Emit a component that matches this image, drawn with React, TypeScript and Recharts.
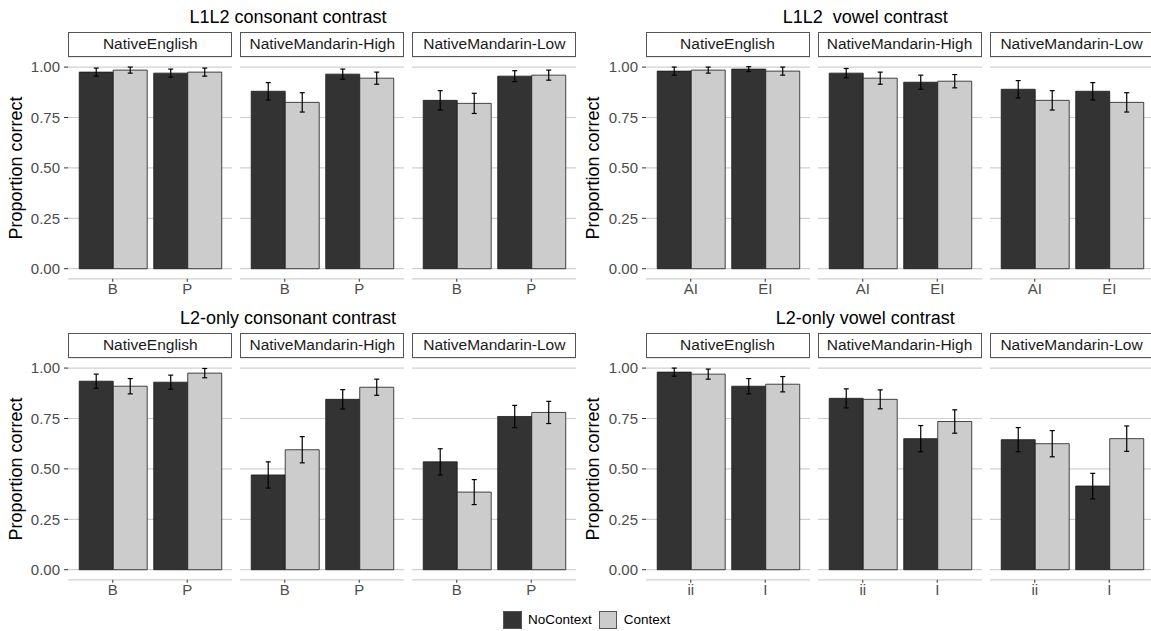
import React from "react";
import { BarChart, Bar, XAxis, YAxis, CartesianGrid, ErrorBar } from "recharts";

const groups = ["NativeEnglish", "NativeMandarin-High", "NativeMandarin-Low"];

const consonantCats = ["B", "P"];
const l1l2VowelCats = ["AI", "EI"];
const l2VowelCats = ["ii", "I"];

// each list runs group by group: [group1 cat1, group1 cat2, group2 cat1, ...]
const l1l2ConsNo = [0.975, 0.97, 0.88, 0.965, 0.835, 0.955];
const l1l2ConsNoErr = [0.02, 0.02, 0.043, 0.025, 0.048, 0.027];
const l1l2ConsCtx = [0.985, 0.975, 0.825, 0.945, 0.82, 0.96];
const l1l2ConsCtxErr = [0.015, 0.02, 0.048, 0.03, 0.05, 0.025];

const l1l2VowNo = [0.98, 0.99, 0.97, 0.925, 0.89, 0.88];
const l1l2VowNoErr = [0.02, 0.012, 0.023, 0.035, 0.043, 0.043];
const l1l2VowCtx = [0.985, 0.98, 0.945, 0.93, 0.835, 0.825];
const l1l2VowCtxErr = [0.015, 0.02, 0.03, 0.033, 0.048, 0.048];

const l2ConsNo = [0.935, 0.93, 0.47, 0.845, 0.535, 0.76];
const l2ConsNoErr = [0.035, 0.035, 0.065, 0.048, 0.065, 0.055];
const l2ConsCtx = [0.91, 0.975, 0.595, 0.905, 0.385, 0.78];
const l2ConsCtxErr = [0.038, 0.023, 0.065, 0.04, 0.062, 0.055];

const l2VowNo = [0.98, 0.91, 0.85, 0.65, 0.645, 0.415];
const l2VowNoErr = [0.02, 0.038, 0.047, 0.065, 0.06, 0.063];
const l2VowCtx = [0.97, 0.92, 0.845, 0.735, 0.625, 0.65];
const l2VowCtxErr = [0.025, 0.038, 0.047, 0.058, 0.065, 0.063];

const yTicks = [0, 0.25, 0.5, 0.75, 1];

const panels = [
  { title: "L1L2 consonant contrast", cats: consonantCats, no: l1l2ConsNo, noErr: l1l2ConsNoErr, ctx: l1l2ConsCtx, ctxErr: l1l2ConsCtxErr },
  { title: "L1L2  vowel contrast", cats: l1l2VowelCats, no: l1l2VowNo, noErr: l1l2VowNoErr, ctx: l1l2VowCtx, ctxErr: l1l2VowCtxErr },
  { title: "L2-only consonant contrast", cats: consonantCats, no: l2ConsNo, noErr: l2ConsNoErr, ctx: l2ConsCtx, ctxErr: l2ConsCtxErr },
  { title: "L2-only vowel contrast", cats: l2VowelCats, no: l2VowNo, noErr: l2VowNoErr, ctx: l2VowCtx, ctxErr: l2VowCtxErr },
];

const FONT = "'Liberation Sans', Arial, Helvetica, sans-serif";
const DARK = "#333333";
const LIGHT = "#cccccc";

// layout
const PANEL_LEFT = [68.3, 645.5];
const PANEL_TOP = [56.6, 357.6];
const FACET_W = 164;
const FACET_STEP = 172;
const PLOT_H = 221.8;
const AXIS_H = 32;
const Y_W = 60;
const STRIP_H = 24.4;

function facetData(p: any, g: number) {
  return p.cats.map((c: string, i: number) => {
    const k = g * 2 + i;
    return { cat: c, no: p.no[k], noErr: p.noErr[k], ctx: p.ctx[k], ctxErr: p.ctxErr[k] };
  });
}

function Facet({ p, g, left, top }: any) {
  const first = g === 0;
  const w = FACET_W + (first ? Y_W : 0);
  return (
    <div style={{ position: "absolute", left: left - (first ? Y_W : 0), top }}>
      <BarChart
        width={w}
        height={PLOT_H + AXIS_H}
        data={facetData(p, g)}
        margin={{ top: 0, right: 0, bottom: 0, left: 0 }}
        barCategoryGap="5%"
        barGap={0}
      >
        <CartesianGrid vertical={false} stroke="#d0d0d0" strokeWidth={1.2} />
        <XAxis
          dataKey="cat"
          axisLine={false}
          tickSize={3}
          tickMargin={2}
          tickLine={{ stroke: "#333" }}
          tick={{ fill: "#4d4d4d", fontSize: 15, fontFamily: FONT }}
          padding={{ left: 7.5, right: 7.5 }}
          height={AXIS_H}
          interval={0}
        />
        <YAxis
          type="number"
          domain={[-0.05, 1.05]}
          ticks={yTicks}
          allowDataOverflow
          hide={!first}
          width={Y_W}
          axisLine={false}
          tickSize={4}
          tickMargin={4}
          tickLine={{ stroke: "#333" }}
          tick={{ fill: "#4d4d4d", fontSize: 15, fontFamily: FONT }}
          tickFormatter={(v: number) => v.toFixed(2)}
        />
        <Bar dataKey="no" fill={DARK} stroke="#1a1a1a" strokeWidth={0.8} isAnimationActive={false}>
          <ErrorBar dataKey="noErr" width={2.5} stroke="#000" strokeWidth={1.2} />
        </Bar>
        <Bar dataKey="ctx" fill={LIGHT} stroke="#1a1a1a" strokeWidth={0.8} isAnimationActive={false}>
          <ErrorBar dataKey="ctxErr" width={2.5} stroke="#000" strokeWidth={1.2} />
        </Bar>
      </BarChart>
    </div>
  );
}

function Panel({ p, idx }: any) {
  const col = idx % 2;
  const row = Math.floor(idx / 2);
  const x0 = PANEL_LEFT[col];
  const y0 = PANEL_TOP[row];
  const plotLeft = x0 - 68.3;
  return (
    <>
      <div
        style={{
          position: "absolute",
          left: plotLeft,
          top: y0 - 50,
          width: 576,
          textAlign: "center",
          whiteSpace: "pre",
          fontSize: 18,
          lineHeight: "20px",
          color: "#000",
        }}
      >
        {p.title}
      </div>
      <div
        style={{
          position: "absolute",
          left: plotLeft + 16 - PLOT_H / 2,
          top: y0 + PLOT_H / 2 - 10,
          width: PLOT_H,
          height: 20,
          lineHeight: "20px",
          textAlign: "center",
          fontSize: 18,
          color: "#000",
          transform: "rotate(-90deg)",
        }}
      >
        Proportion correct
      </div>
      {groups.map((name, g) => (
        <React.Fragment key={name}>
          <div
            style={{
              position: "absolute",
              left: x0 + g * FACET_STEP,
              top: y0 - STRIP_H,
              width: FACET_W,
              height: STRIP_H,
              boxSizing: "border-box",
              border: "1px solid #555",
              background: "#fff",
              textAlign: "center",
              fontSize: 15.5,
              lineHeight: `${STRIP_H - 2}px`,
              color: "#1a1a1a",
            }}
          >
            {name}
          </div>
          <Facet p={p} g={g} left={x0 + g * FACET_STEP} top={y0} />
        </React.Fragment>
      ))}
    </>
  );
}

export default function App() {
  return (
    <div
      style={{
        position: "absolute",
        left: 0,
        top: 0,
        width: 1151,
        height: 631,
        overflow: "hidden",
        background: "#fff",
        fontFamily: FONT,
      }}
    >
      {panels.map((p, i) => (
        <Panel key={p.title} p={p} idx={i} />
      ))}
      <div
        style={{
          position: "absolute",
          left: 503.3,
          top: 610.7,
          display: "flex",
          alignItems: "center",
          fontSize: 13.5,
          color: "#000",
        }}
      >
        <span style={{ width: 18.4, height: 18.4, boxSizing: "border-box", background: DARK, border: "1px solid #555" }} />
        <span style={{ marginLeft: 6.3, marginRight: 7 }}>NoContext</span>
        <span style={{ width: 18.4, height: 18.4, boxSizing: "border-box", background: LIGHT, border: "1px solid #555" }} />
        <span style={{ marginLeft: 6.6 }}>Context</span>
      </div>
    </div>
  );
}
